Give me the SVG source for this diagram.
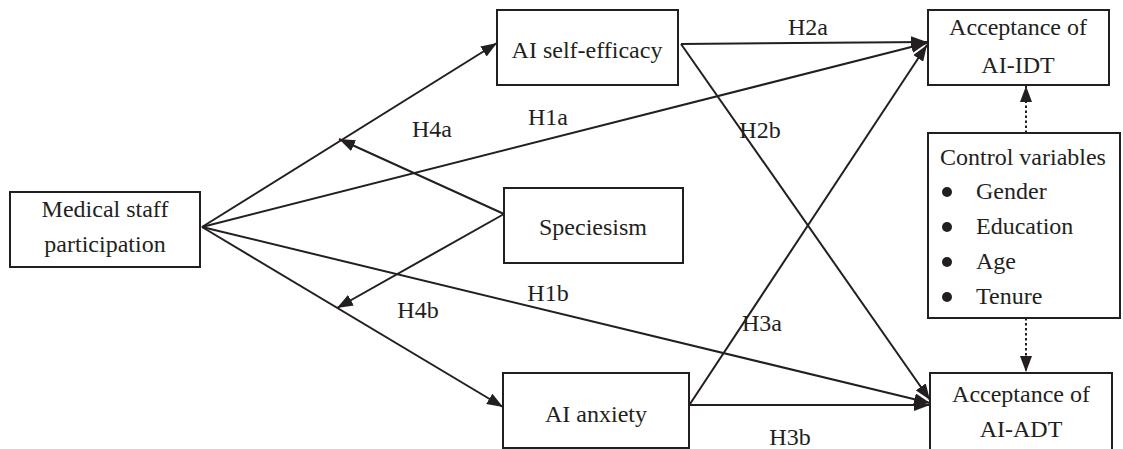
<svg xmlns="http://www.w3.org/2000/svg" width="1123" height="449" viewBox="0 0 1123 449">
<style>
text{font-family:"Liberation Serif","Times New Roman",serif;font-size:24px;fill:#231f20}
.box{fill:#fff;stroke:#231f20;stroke-width:2}
.c{text-anchor:middle}
.ln{stroke:#231f20;stroke-width:2;fill:none}
.dot{stroke:#231f20;stroke-width:2;fill:none;stroke-dasharray:2.5 2.5}
</style>
<defs>
<marker id="ah" viewBox="0 0 16 12" refX="16" refY="6" markerWidth="16" markerHeight="12" markerUnits="userSpaceOnUse" orient="auto">
<path d="M0,0 L16,6 L0,12 Z" fill="#231f20"/>
</marker>
</defs>
<rect width="1123" height="449" fill="#fff"/>
<g id="connectors">
<path class="ln" d="M202,227 L497,43" marker-end="url(#ah)"/>
<path class="ln" d="M202,227 L503,407" marker-end="url(#ah)"/>
<path class="ln" d="M202,227 L927,43" marker-end="url(#ah)"/>
<path class="ln" d="M202,227 L930,403" marker-end="url(#ah)"/>
<path class="ln" d="M681,44 L927,42" marker-end="url(#ah)"/>
<path class="ln" d="M681,44 L930,400" marker-end="url(#ah)"/>
<path class="ln" d="M690,404 L927,45" marker-end="url(#ah)"/>
<path class="ln" d="M690,405 L930,405" marker-end="url(#ah)"/>
<path class="ln" d="M504,214 L339,139" marker-end="url(#ah)"/>
<path class="ln" d="M504,214 L337,308" marker-end="url(#ah)"/>
<path class="dot" d="M1026,133 L1026,86" marker-end="url(#ah)"/>
<path class="dot" d="M1026,318 L1026,372" marker-end="url(#ah)"/>
<text class="c" x="808" y="35">H2a</text>
<text class="c" x="548" y="125">H1a</text>
<text class="c" x="432" y="137">H4a</text>
<text class="c" x="760" y="138">H2b</text>
<text class="c" x="548" y="301">H1b</text>
<text class="c" x="418" y="318">H4b</text>
<text class="c" x="762" y="331">H3a</text>
<text class="c" x="790" y="445">H3b</text>
</g>
<g id="medical">
<rect class="box" x="10" y="192" width="190" height="75"/>
<text class="c" x="105" y="217">Medical staff</text>
<text class="c" x="105" y="252">participation</text>
</g>
<g id="selfefficacy">
<rect class="box" x="497" y="10" width="181" height="75"/>
<text class="c" x="587" y="58">AI self-efficacy</text>
</g>
<g id="speciesism">
<rect class="box" x="504" y="188" width="179" height="75"/>
<text class="c" x="593" y="235">Speciesism</text>
</g>
<g id="anxiety">
<rect class="box" x="503" y="373" width="186" height="75"/>
<text class="c" x="596" y="422">AI anxiety</text>
</g>
<g id="idt">
<rect class="box" x="928" y="10" width="181" height="75"/>
<text class="c" x="1018" y="35">Acceptance of</text>
<text class="c" x="1018" y="73">AI-IDT</text>
</g>
<g id="control">
<rect class="box" x="928" y="133" width="192" height="185"/>
<text x="940" y="165">Control variables</text>
<circle cx="947" cy="192" r="5" fill="#231f20"/>
<text x="976" y="199">Gender</text>
<circle cx="947" cy="227" r="5" fill="#231f20"/>
<text x="976" y="234">Education</text>
<circle cx="947" cy="262" r="5" fill="#231f20"/>
<text x="976" y="269">Age</text>
<circle cx="947" cy="297" r="5" fill="#231f20"/>
<text x="976" y="304">Tenure</text>
</g>
<g id="adt">
<rect class="box" x="930" y="373" width="182" height="85"/>
<text class="c" x="1021" y="402">Acceptance of</text>
<text class="c" x="1021" y="437">AI-ADT</text>
</g>
</svg>
